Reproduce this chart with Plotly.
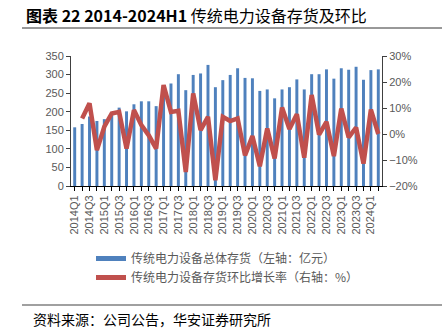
import plotly.graph_objects as go

quarters = ["2014Q1", "2014Q2", "2014Q3", "2014Q4", "2015Q1", "2015Q2", "2015Q3", "2015Q4",
            "2016Q1", "2016Q2", "2016Q3", "2016Q4", "2017Q1", "2017Q2", "2017Q3", "2017Q4",
            "2018Q1", "2018Q2", "2018Q3", "2018Q4", "2019Q1", "2019Q2", "2019Q3", "2019Q4",
            "2020Q1", "2020Q2", "2020Q3", "2020Q4", "2021Q1", "2021Q2", "2021Q3", "2021Q4",
            "2022Q1", "2022Q2", "2022Q3", "2022Q4", "2023Q1", "2023Q2", "2023Q3", "2023Q4",
            "2024Q1", "2024Q2"]

inventory = [158, 167, 187, 175, 180, 191, 211, 201, 220, 228, 228, 215, 252, 276, 301, 258,
             299, 303, 326, 266, 285, 299, 317, 291, 290, 256, 260, 236, 260, 266, 287, 260,
             301, 301, 314, 289, 317, 313, 321, 286, 312, 314]

qoq = [None, 6.0, 11.8, -6.2, 2.8, 7.9, 8.5, -5.6, 9.2, 3.4, -0.5, -5.6, 18.8, 8.5, 8.9, -14.6,
       15.6, 1.5, 6.6, -17.8, 6.6, 5.0, 6.0, -8.2, -0.8, -12.4, 2.1, -9.4, 10.2, 1.9, 7.6, -9.1,
       15.0, -0.2, 4.7, -8.5, 9.8, -1.3, 2.5, -11.4, 9.4, 0.0]

tick_labels = [q if i % 2 == 0 else "" for i, q in enumerate(quarters)]

name_bar = "传统电力设备总体存货（左轴：亿元）"
name_line = "传统电力设备存货环比增长率（右轴：%）"
title_text = "<b>图表 22 2014-2024H1</b> 传统电力设备存货及环比"
source_text = "资料来源：公司公告，华安证券研究所"

BLUE = "#4F81BD"
RED = "#C0504D"
GRAY = "#595959"
FONT = "Liberation Sans, Arial, Noto Sans CJK SC, sans-serif"
CJK = "Noto Sans CJK SC, Liberation Sans, sans-serif"

W, H = 442, 336
L, R, T, B = 71, 60, 56, 150
PW, PH = W - L - R, H - T - B


def px(x):
    return (x - L) / PW


def py(y):
    return (H - B - y) / PH


fig = go.Figure()
fig.add_trace(go.Bar(x=quarters, y=inventory, marker=dict(color=BLUE, line=dict(width=0)),
                     name=name_bar, showlegend=False, yaxis="y"))
fig.add_trace(go.Scatter(x=quarters, y=qoq, mode="lines", line=dict(color=RED, width=4.5),
                         name=name_line, showlegend=False, yaxis="y2"))
# legend-only entries
fig.add_trace(go.Scatter(x=[None], y=[None], mode="lines", line=dict(color=BLUE, width=5),
                         name=name_bar, yaxis="y"))
fig.add_trace(go.Scatter(x=[None], y=[None], mode="lines", line=dict(color=RED, width=5),
                         name=name_line, yaxis="y2"))

fig.update_layout(
    width=W, height=H, autosize=False,
    margin=dict(l=L, r=R, t=T, b=B, pad=0),
    paper_bgcolor="white", plot_bgcolor="white",
    bargap=0.6,
    font=dict(family=FONT, size=11, color=GRAY),
    xaxis=dict(type="category", tickmode="array", tickvals=quarters, ticktext=tick_labels,
               tickangle=-90, ticks="outside", ticklen=4, tickcolor="black",
               showline=True, linecolor="black", linewidth=1, showgrid=False,
               tickfont=dict(family=FONT, size=11, color=GRAY), range=[-0.5, 41.5]),
    yaxis=dict(range=[0, 350], dtick=50, ticks="outside", ticklen=4, tickcolor="#404040",
               showline=True, linecolor="#404040", linewidth=1, showgrid=False, zeroline=False,
               tickfont=dict(family=FONT, size=11, color=GRAY)),
    yaxis2=dict(range=[-20, 30], dtick=10, ticksuffix="%", overlaying="y", side="right",
                ticks="outside", ticklen=4, tickcolor="#404040",
                showline=True, linecolor="#404040", linewidth=1, showgrid=False, zeroline=False,
                tickfont=dict(family=FONT, size=11, color=GRAY)),
    legend=dict(x=px(91), y=py(244), xanchor="left", yanchor="top", orientation="v",
                font=dict(family=CJK, size=12, color=GRAY), bgcolor="rgba(0,0,0,0)",
                traceorder="normal"),
    showlegend=True,
)

fig.add_annotation(text=title_text, xref="paper", yref="paper", x=px(24), y=py(15),
                   xanchor="left", yanchor="middle", showarrow=False,
                   font=dict(family=CJK, size=16, color="black"))
fig.add_annotation(text=source_text, xref="paper", yref="paper", x=px(31), y=py(319),
                   xanchor="left", yanchor="middle", showarrow=False,
                   font=dict(family=CJK, size=14, color="black"))
fig.add_shape(type="line", xref="paper", yref="paper", x0=px(22), x1=px(442), y0=py(28), y1=py(28),
              line=dict(color="#333333", width=1))
fig.add_shape(type="line", xref="paper", yref="paper", x0=px(22), x1=px(442), y0=py(305), y1=py(305),
              line=dict(color="#808080", width=1.5))

fig.write_html("out.html")
